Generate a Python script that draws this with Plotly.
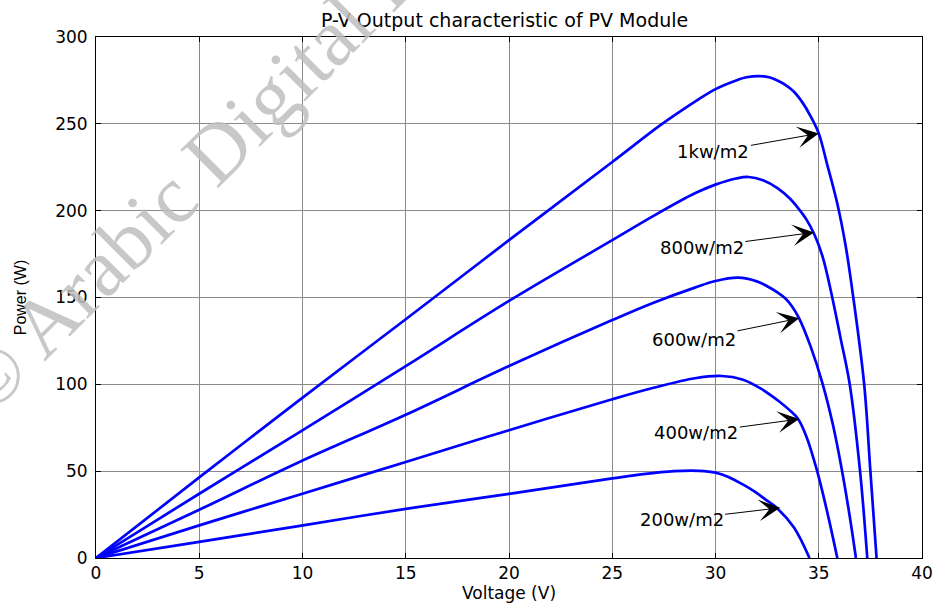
import plotly.graph_objects as go

# ---- data ----
v_1000 = [0, 5, 9.8, 15, 20, 25, 27.25, 28.4, 29.1, 30, 31, 31.5, 32.1, 32.6, 33.0, 33.4, 33.8, 34.2, 34.6, 35.0, 35.4, 35.9, 36.3, 36.65, 37.2, 37.5, 37.8]
p_1000 = [0, 46.4, 90.5, 137.5, 183, 228, 248.5, 258, 263.5, 270, 275, 276.8, 277.5, 276.8, 275, 272.3, 268.5, 262.5, 254.5, 244.5, 227, 204, 180, 152, 100, 50, 0]

v_800 = [0, 5, 9.8, 15, 20, 25, 27, 29.0, 30, 31.0, 31.6, 32.3, 33.0, 33.6, 34.0, 34.4, 34.8, 35.2, 35.6, 36.05, 36.5, 37.0, 37.35]
p_800 = [0, 37, 72, 110.5, 148, 183, 197, 210, 215, 218.5, 219.4, 217.5, 213, 207, 201.5, 195, 186, 173, 153, 127, 100, 50, 0]

v_600 = [0, 5, 9.8, 15, 20, 25, 27, 29.0, 30, 31.1, 32.0, 32.5, 33.0, 33.4, 33.7, 34.05, 34.6, 35.17, 35.7, 36.1, 36.5, 36.8]
p_600 = [0, 27.8, 55, 82.5, 110.5, 137, 147, 155.7, 159.5, 161.4, 159.3, 156.5, 153, 149.3, 145, 138, 122, 101, 76, 52, 24, 0]

v_400 = [0, 5, 9.8, 15, 20, 25, 27, 29.0, 30.3, 31.3, 32.2, 33.1, 33.6, 34.0, 34.4, 34.9, 35.4, 35.9]
p_400 = [0, 18.8, 36.3, 55.3, 73.6, 91.4, 98, 103.5, 104.8, 102.8, 97.5, 90, 85, 80, 70, 51, 27, 0]

v_200 = [0, 5, 9.8, 15, 20, 25, 26.5, 28.0, 29.2, 30.0, 30.6, 31.3, 31.9, 32.5, 33.0, 33.8, 34.55]
p_200 = [0, 9.3, 18.4, 28.3, 36.9, 45.8, 48.3, 50.0, 50.2, 49.2, 46.8, 42.5, 38.2, 33, 28.5, 17.5, 0]

curves = [(v_1000, p_1000), (v_800, p_800), (v_600, p_600), (v_400, p_400), (v_200, p_200)]

labels = ["1kw/m2", "800w/m2", "600w/m2", "400w/m2", "200w/m2"]
label_v = [29.9, 29.34, 28.96, 29.07, 28.36]
label_p = [233.8, 178.9, 125.7, 72.0, 22.2]
head_v = [35.0, 34.77, 34.05, 34.05, 33.13]
head_p = [244.5, 187.5, 138.0, 80.0, 28.9]

x_ticks = [0, 5, 10, 15, 20, 25, 30, 35, 40]
y_ticks = [0, 50, 100, 150, 200, 250, 300]

fig = go.Figure()
for v, p in curves:
    fig.add_trace(go.Scatter(x=v, y=p, mode="lines",
                             line=dict(color="#0000ff", width=2.7, shape="spline", smoothing=1.0),
                             showlegend=False, hoverinfo="skip"))

annotations = []
# watermark
annotations.append(dict(text="© Arabic Digital Library", xref="paper", yref="paper",
                        x=0.196, y=0.861, xanchor="center", yanchor="middle",
                        textangle=-45, showarrow=False,
                        font=dict(family="Liberation Serif", size=82, color="rgba(190,190,190,0.85)")))
for t, lv, lp, hv, hp in zip(labels, label_v, label_p, head_v, head_p):
    annotations.append(dict(text=t, x=hv, y=hp, ax=lv, ay=lp, xref="x", yref="y",
                            axref="x", ayref="y", showarrow=True, arrowhead=3,
                            arrowsize=3.6, arrowwidth=1, arrowcolor="black", standoff=0,
                            font=dict(family="DejaVu Sans", size=18, color="black")))

axis_common = dict(showline=True, linecolor="black", linewidth=1, mirror="allticks",
                   ticks="inside", ticklen=5, tickcolor="black",
                   showgrid=True, gridcolor="#8a8a8a", gridwidth=1, zeroline=False,
                   tickfont=dict(family="DejaVu Sans", size=17, color="black"))

fig.update_layout(
    width=945, height=611,
    margin=dict(l=96, r=16, t=37, b=48),
    paper_bgcolor="white", plot_bgcolor="white",
    title=dict(text="P-V Output characteristic of PV Module", x=0.534, xref="container",
               y=1 - 20 / 611, yref="container", xanchor="center", yanchor="middle",
               font=dict(family="DejaVu Sans", size=19, color="black")),
    xaxis=dict(range=[0, 40], tickvals=x_ticks, ticktext=[str(t) for t in x_ticks],
               title=dict(text="Voltage (V)", standoff=4,
                          font=dict(family="DejaVu Sans", size=17, color="black")),
               **axis_common),
    yaxis=dict(range=[0, 300], tickvals=y_ticks, ticktext=[str(t) for t in y_ticks],
               ticklabelstandoff=4,
               title=dict(text="Power (W)", standoff=24,
                          font=dict(family="Liberation Sans", size=16, color="black")),
               **axis_common),
    annotations=annotations,
)

fig.write_html("out.html")
